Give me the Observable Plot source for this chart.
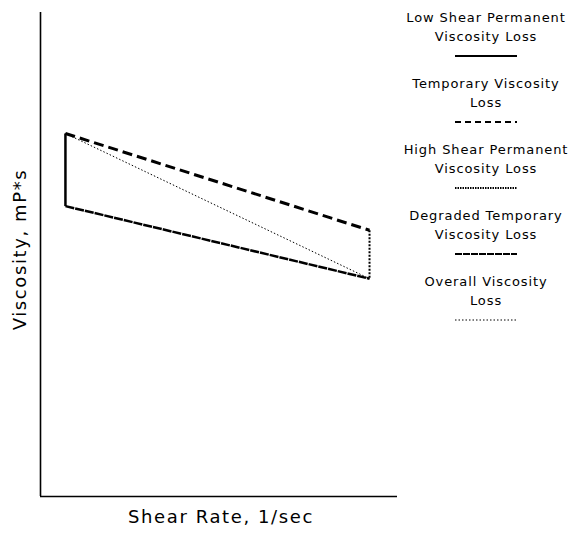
<!DOCTYPE html>
<html>
<head>
<meta charset="utf-8">
<script src="https://cdn.jsdelivr.net/npm/d3@7"></script>
<script src="https://cdn.jsdelivr.net/npm/@observablehq/plot@0.6"></script>
<style>
  html, body { margin: 0; padding: 0; background: #fff; }
  #wrap { position: relative; width: 574px; height: 533px; }
  #legend { position: absolute; left: 397px; top: 8px; width: 178px;
    font-family: "DejaVu Sans", sans-serif; font-size: 13px; letter-spacing: 0.9px;
    color: #000; text-align: center; }
  .entry { height: 66px; }
  .entry .lab { line-height: 19px; height: 19px; }
  .entry svg { display: block; margin: 6px auto 0; }
</style>
</head>
<body>
<div id="wrap">
  <div id="chart"></div>
  <div id="legend"></div>
</div>
<script>
// Shear rate positions: low shear and high shear
const shearRates = [1, 2];
// Viscosity of fresh oil at each shear rate
const freshViscosity = [75, 55];
// Viscosity of sheared (permanently degraded) oil at each shear rate
const degradedViscosity = [60, 45];

// Legend entries, in drawing order
const lossLabels = [
  ["Low Shear Permanent", "Viscosity Loss"],
  ["Temporary Viscosity", "Loss"],
  ["High Shear Permanent", "Viscosity Loss"],
  ["Degraded Temporary", "Viscosity Loss"],
  ["Overall Viscosity", "Loss"]
];

const styles = [
  {strokeWidth: 2.5, strokeDasharray: null, legendDash: null},
  {strokeWidth: 3, strokeDasharray: "10,5", legendDash: "6,4"},
  {strokeWidth: 2, strokeDasharray: "2,1.5", legendDash: "1.5,1"},
  {strokeWidth: 2.5, strokeDasharray: "9,1", legendDash: "7,1"},
  {strokeWidth: 1, strokeDasharray: "1.5,2", legendDash: "1.5,2"}
];

// Each loss as a segment between two (shear rate, viscosity) states
const segments = [
  {x1: shearRates[0], y1: freshViscosity[0], x2: shearRates[0], y2: degradedViscosity[0]},
  {x1: shearRates[0], y1: freshViscosity[0], x2: shearRates[1], y2: freshViscosity[1]},
  {x1: shearRates[1], y1: freshViscosity[1], x2: shearRates[1], y2: degradedViscosity[1]},
  {x1: shearRates[0], y1: degradedViscosity[0], x2: shearRates[1], y2: degradedViscosity[1]},
  {x1: shearRates[0], y1: freshViscosity[0], x2: shearRates[1], y2: degradedViscosity[1]}
];

const chart = Plot.plot({
  width: 574,
  height: 533,
  marginLeft: 40,
  marginRight: 177,
  marginTop: 12,
  marginBottom: 37,
  style: {letterSpacing: "1.6px"},
  x: {domain: [0.918, 2.092], axis: null},
  y: {domain: [0, 100], axis: null},
  marks: [
    Plot.ruleX([0.918], {strokeWidth: 1.6}),
    Plot.ruleY([0], {strokeWidth: 1.6}),
    ...segments.map((s, i) => Plot.link([s], {
      x1: "x1", y1: "y1", x2: "x2", y2: "y2",
      stroke: "black",
      strokeWidth: styles[i].strokeWidth,
      strokeDasharray: styles[i].strokeDasharray,
      strokeLinecap: "butt"
    })),
    Plot.text(["Shear Rate, 1/sec"], {
      frameAnchor: "bottom", dx: 2, dy: 26, fontSize: 18,
      fontFamily: "DejaVu Sans, sans-serif", fill: "black"
    }),
    Plot.text(["Viscosity, mP*s"], {
      frameAnchor: "left", textAnchor: "middle", dx: -20, dy: -5, rotate: -90, fontSize: 18,
      fontFamily: "DejaVu Sans, sans-serif", fill: "black"
    })
  ]
});
document.getElementById("chart").appendChild(chart);

// Legend: two text lines and a line sample per entry
const legend = d3.select("#legend");
lossLabels.forEach((lines, i) => {
  const e = legend.append("div").attr("class", "entry");
  lines.forEach(t => e.append("div").attr("class", "lab").text(t));
  const svg = e.append("svg").attr("width", 62).attr("height", 8);
  svg.append("line")
    .attr("x1", 0).attr("x2", 62).attr("y1", 4).attr("y2", 4)
    .attr("stroke", "black")
    .attr("stroke-width", Math.min(styles[i].strokeWidth, 2))
    .attr("stroke-dasharray", styles[i].legendDash);
});
</script>
</body>
</html>
